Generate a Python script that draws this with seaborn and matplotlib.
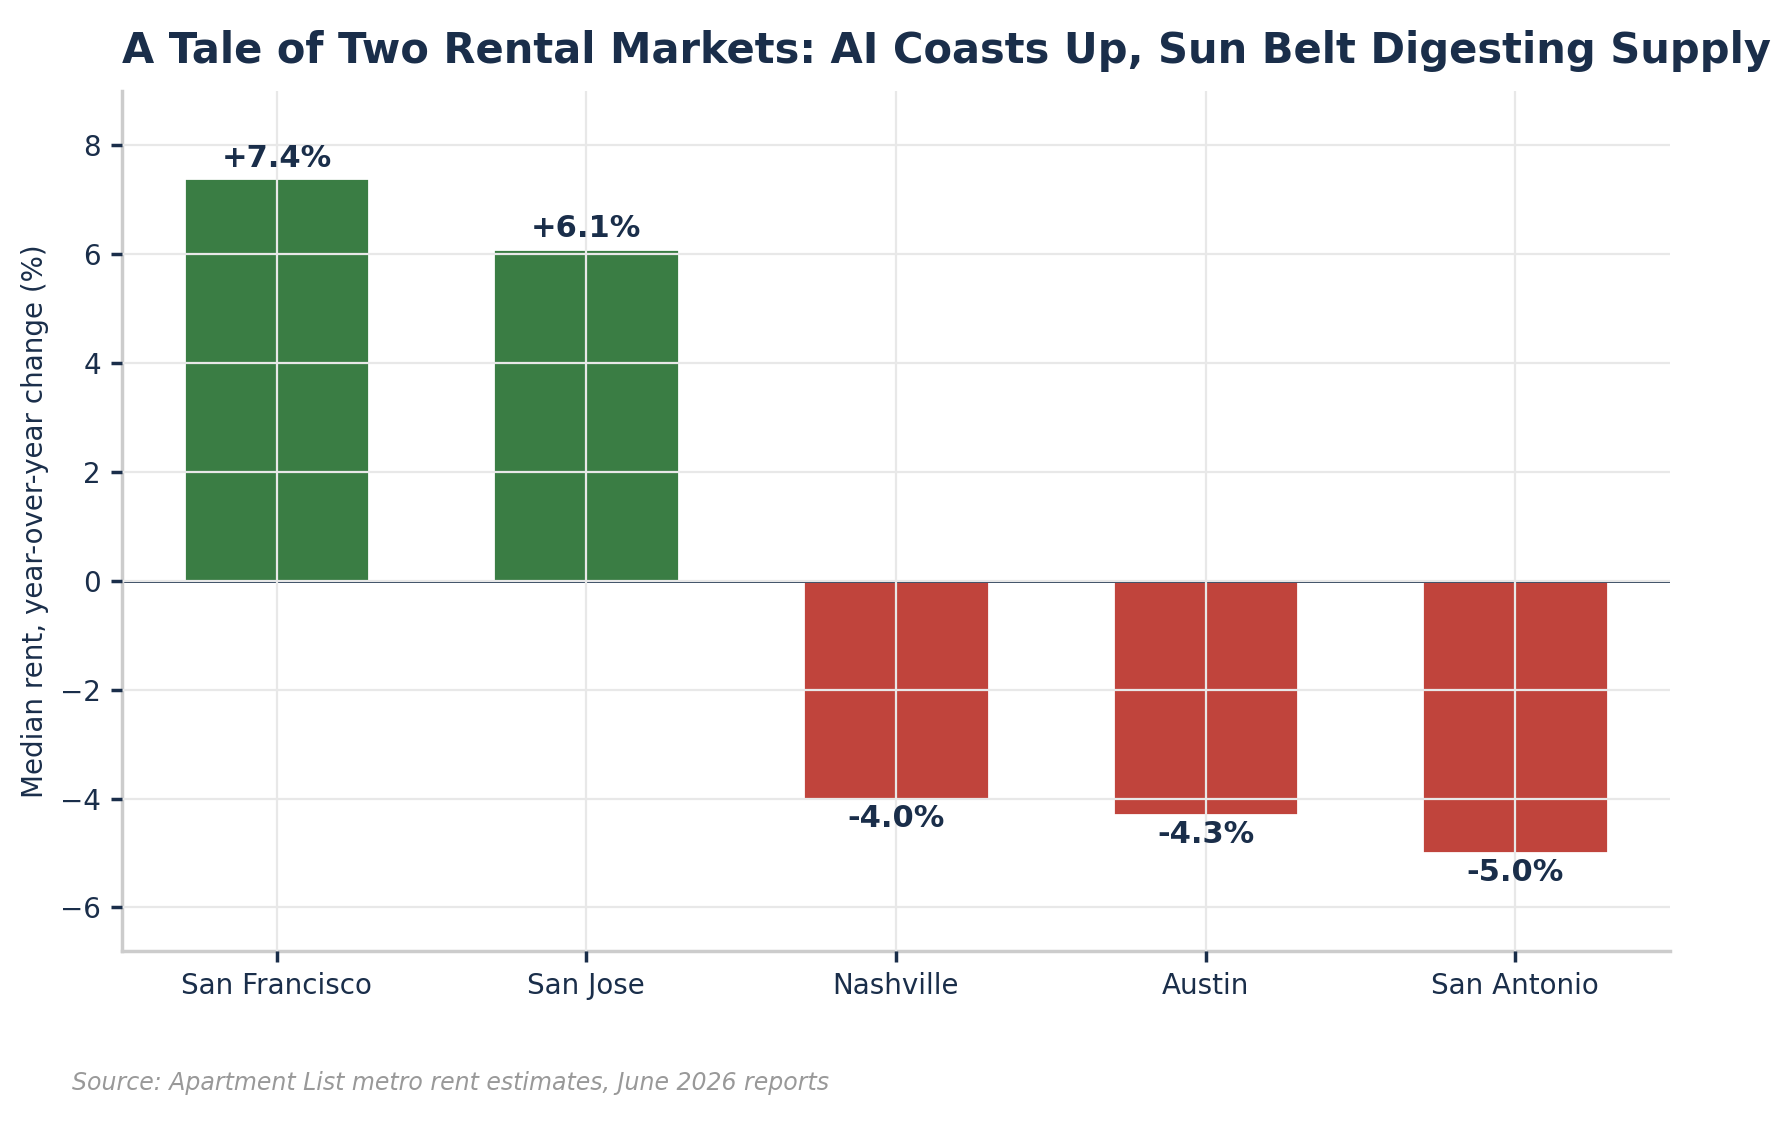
import matplotlib
matplotlib.use("Agg")
import matplotlib.pyplot as plt
import seaborn as sns
import pandas as pd

cities = ["San Francisco", "San Jose", "Nashville", "Austin", "San Antonio"]
changes = [7.4, 6.1, -4.0, -4.3, -5.0]
labels = ["+7.4%", "+6.1%", "-4.0%", "-4.3%", "-5.0%"]

sns.set_theme(style="whitegrid")
plt.rcParams['font.family'] = ['DejaVu Sans']
dark = "#1a2e4a"
df = pd.DataFrame({"city": cities, "change": changes})
colors = ["#3a7d44" if v > 0 else "#c0443c" for v in changes]

fig = plt.figure(figsize=(8.95, 5.62), dpi=200)
ax = fig.add_axes([0.068, 0.154, 0.865, 0.765])
sns.barplot(data=df, x="city", y="change", hue="city", palette=colors, legend=False, width=0.6, ax=ax, saturation=1)
ax.set_axisbelow(False)
ax.grid(True, color="#e8e8e8", linewidth=0.8)
ax.axhline(0, color=dark, linewidth=1.0)
ax.set_ylim(-6.8, 9)
for i, (v, t) in enumerate(zip(changes, labels)):
    ax.text(i, v + (0.1 if v > 0 else -0.1), t, ha="center", va="bottom" if v > 0 else "top",
            fontsize=11, fontweight="bold", color=dark)
ax.set_xlabel("")
ax.set_ylabel("Median rent, year-over-year change (%)", fontsize=10, color=dark)
ax.tick_params(colors=dark, labelsize=10, length=4, left=True, bottom=True)
for s in ["top", "right"]:
    ax.spines[s].set_visible(False)
for s in ["left", "bottom"]:
    ax.spines[s].set_color("#cccccc")
fig.text(0.068, 0.955, "A Tale of Two Rental Markets: AI Coasts Up, Sun Belt Digesting Supply",
         fontsize=15, fontweight="bold", color=dark, ha="left", va="center")
fig.text(0.04, 0.03, "Source: Apartment List metro rent estimates, June 2026 reports",
         fontsize=8.5, style="italic", color="#999999", ha="left")
fig.savefig("out.png", dpi=200)
